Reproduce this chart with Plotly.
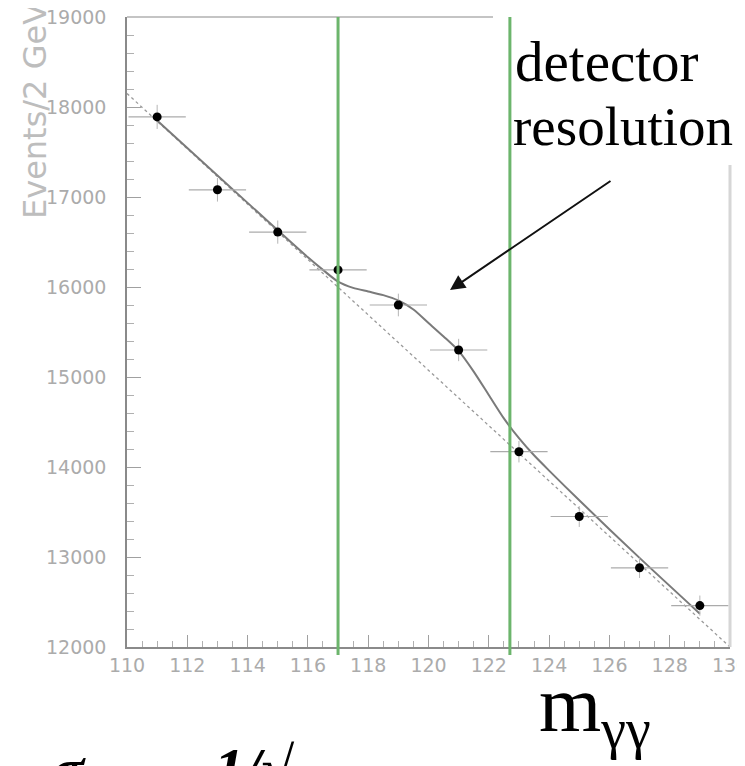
import plotly.graph_objects as go

# ---------------- data ----------------
bin_centers = [111, 113, 115, 117, 119, 121, 123, 125, 127, 129]
events = [17890, 17080, 16610, 16190, 15800, 15300, 14170, 13450, 12880, 12460]
events_err = [134, 131, 129, 127, 126, 124, 119, 116, 113, 112]
bin_half_width = [0.95, 0.95, 0.95, 0.95, 0.95, 0.95, 0.95, 0.95, 0.95, 0.95]

fit_x = [111, 113, 115, 116, 116.5, 117, 117.5, 118, 118.5, 119, 119.5, 120,
         120.5, 121, 121.5, 122, 122.5, 123, 123.5, 124, 125, 127, 129]
fit_y = [17850, 17240, 16630, 16330, 16190, 16060, 15990, 15950, 15910, 15850,
         15750, 15600, 15450, 15290, 15060, 14800, 14540, 14320, 14130, 13960,
         13630, 12990, 12370]

bkg_x = [110, 130]
bkg_y = [18150, 12000]

window_edges = [117.0, 122.7]

x_ticks = [110, 112, 114, 116, 118, 120, 122, 124, 126, 128, 130]
y_ticks = [12000, 13000, 14000, 15000, 16000, 17000, 18000, 19000]

# ---------------- geometry (the page body adds an 8px offset) ----------------
OFF = 8
W, H = 745 - OFF, 766 - OFF
L, T = 127 - OFF, 17 - OFF
R = 745 - 730
B = 766 - 647
PW, PH = W - L - R, H - T - B


def px(xs):
    """screen x pixel -> paper x"""
    return (xs - OFF - L) / PW


def py(ys):
    """screen y pixel -> paper y"""
    return (H - B - (ys - OFF)) / PH


fig = go.Figure()

fig.add_trace(go.Scatter(
    x=bkg_x, y=bkg_y, mode="lines",
    line=dict(color="#9a9a9a", width=1.3, dash="dot"),
    showlegend=False, hoverinfo="skip"))

fig.add_trace(go.Scatter(
    x=fit_x, y=fit_y, mode="lines", line_shape="spline",
    line=dict(color="#7a7a7a", width=2, smoothing=0.7),
    showlegend=False, hoverinfo="skip"))

fig.add_trace(go.Scatter(
    x=bin_centers, y=events, mode="markers",
    marker=dict(color="black", size=9),
    error_x=dict(type="data", array=bin_half_width, color="#ababab",
                 thickness=1.2, width=0),
    error_y=dict(type="data", array=events_err, color="#b5b5b5",
                 thickness=1, width=0),
    showlegend=False))

shapes = []
# frame: top and right borders (light)
shapes.append(dict(type="line", xref="paper", yref="paper", x0=0, x1=1, y0=1, y1=1,
                   line=dict(color="#c4c4c4", width=2), layer="above"))
shapes.append(dict(type="line", xref="paper", yref="paper", x0=1, x1=1, y0=0, y1=1,
                   line=dict(color="#d6d6d6", width=3), layer="above"))
# white slide text box covering the top-right of the chart image
shapes.append(dict(type="rect", xref="paper", yref="paper",
                   x0=px(493), x1=px(760), y0=py(165), y1=py(-10),
                   fillcolor="white", line=dict(width=0), layer="above"))
# green window lines
for xe in window_edges:
    shapes.append(dict(type="line", xref="x", yref="paper", x0=xe, x1=xe,
                       y0=py(655), y1=1,
                       line=dict(color="#6cb56c", width=3), layer="above"))

annotations = []
annotations.append(dict(text="Events/2 GeV", textangle=-90, showarrow=False,
                        xref="paper", yref="paper", x=px(35), y=py(111),
                        xanchor="center", yanchor="middle",
                        font=dict(family="DejaVu Sans", size=32, color="#bdbdbd")))
annotations.append(dict(text="detector", showarrow=False,
                        xref="paper", yref="paper", x=px(513), y=py(62),
                        xanchor="left", yanchor="middle",
                        font=dict(family="Liberation Serif", size=57, color="black")))
annotations.append(dict(text="resolution", showarrow=False,
                        xref="paper", yref="paper", x=px(511), y=py(126),
                        xanchor="left", yanchor="middle",
                        font=dict(family="Liberation Serif", size=55, color="black")))
annotations.append(dict(text="", showarrow=True, arrowhead=2, arrowsize=1.5,
                        arrowwidth=2, arrowcolor="#111",
                        xref="paper", yref="paper", x=px(450), y=py(290),
                        ax=162, ay=-110))
annotations.append(dict(text="m<sub>γγ</sub>", showarrow=False,
                        xref="paper", yref="paper", x=px(537), y=py(710),
                        xanchor="left", yanchor="middle",
                        font=dict(family="Liberation Serif", size=80, color="black")))
annotations.append(dict(text="<b><i>σ</i></b>", showarrow=False,
                        xref="paper", yref="paper", x=px(50), y=py(769),
                        xanchor="left", yanchor="middle",
                        font=dict(family="Liberation Serif", size=60, color="black")))
annotations.append(dict(text="<b><i>1/√</i></b>", showarrow=False,
                        xref="paper", yref="paper", x=px(212), y=py(769),
                        xanchor="left", yanchor="middle",
                        font=dict(family="Liberation Serif", size=60, color="black")))

fig.update_layout(
    width=W, height=H,
    margin=dict(l=L, r=R, t=T, b=B, autoexpand=False),
    paper_bgcolor="white", plot_bgcolor="white",
    shapes=shapes, annotations=annotations,
    xaxis=dict(range=[110, 130], showgrid=False, zeroline=False, automargin=False,
               showline=True, linecolor="#8a8a8a", linewidth=1.5,
               ticks="inside", ticklen=12, tickcolor="#a0a0a0", tickwidth=1,
               tickvals=x_ticks, ticktext=[str(v) for v in x_ticks],
               tickfont=dict(family="DejaVu Sans", size=19, color="#ababab"),
               ticklabelstandoff=0, ticklabeloverflow="allow",
               minor=dict(ticks="inside", ticklen=6, dtick=0.5, tick0=110,
                          tickcolor="#b0b0b0", showgrid=False)),
    yaxis=dict(range=[12000, 19000], showgrid=False, zeroline=False, automargin=False,
               showline=True, linecolor="#8a8a8a", linewidth=1.5,
               ticks="inside", ticklen=14, tickcolor="#a0a0a0", tickwidth=1,
               tickvals=y_ticks, ticktext=[str(v) for v in y_ticks],
               tickfont=dict(family="DejaVu Sans", size=19, color="#ababab"),
               ticklabelstandoff=15, ticklabeloverflow="allow",
               minor=dict(ticks="inside", ticklen=7, dtick=200, tick0=12000,
                          tickcolor="#b0b0b0", showgrid=False)),
)

fig.write_html("out.html")
